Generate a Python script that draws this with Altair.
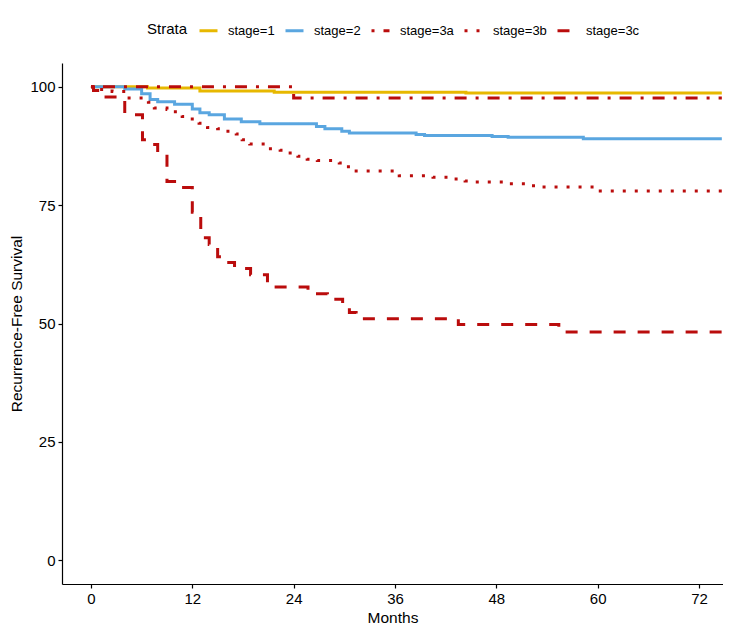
import altair as alt
import pandas as pd

# ---- data (months, survival %) ----
s1_t = [0, 6.7, 12.9, 21.7, 44.4, 74.7]
s1_v = [100, 99.7, 99.1, 98.85, 98.65, 98.65]

s2_t = [0, 4, 6, 7, 7.9, 9.9, 12, 12.9, 14, 15.8, 17.8, 20, 26.7, 27.7, 29.7, 30.6,
        38.5, 39.5, 47.5, 49.4, 58.3, 74.7]
s2_v = [100, 99.5, 98.5, 97.3, 96.8, 96.3, 95.3, 94.5, 94.1, 93.2, 92.6, 92.2, 91.6, 91.1,
        90.6, 90.2, 89.9, 89.7, 89.5, 89.3, 89.0, 89.0]

s3a_t = [0, 24, 74.7]
s3a_v = [100, 97.6, 97.6]

s3b_t = [0, 1, 2.5, 4.3, 6.8, 7.5, 9, 9.8, 10.8, 11.8, 12.8, 13.8, 15, 16, 17.2, 17.9,
         18.8, 21, 22.4, 23.4, 24.5, 25.6, 26.8, 29.4, 30.3, 31.2, 36.5, 40.5, 43, 44.3,
         45.5, 49.5, 52, 53.4, 60, 74.7]
s3b_v = [100, 99.4, 99.0, 97.6, 96.7, 95.5, 95.2, 94.7, 93.7, 93.2, 92.3, 91.4, 91.1, 90.6,
         90.0, 88.8, 87.9, 86.9, 86.6, 86.0, 85.3, 84.7, 84.4, 83.9, 83.1, 82.2, 81.2, 80.9,
         80.5, 80.1, 79.9, 79.5, 79.1, 78.8, 78.0, 78.0]

s3c_t = [0, 0.3, 1.3, 4.0, 6.1, 7.3, 7.9, 9.0, 9.9, 12.0, 13.0, 14.0, 15.0, 16.0, 17.0,
         18.9, 20.9, 25.7, 28.0, 29.8, 30.6, 31.4, 43.5, 55.4, 74.7]
s3c_v = [100, 99.2, 97.8, 94.1, 88.8, 87.8, 85.9, 80.0, 78.7, 73.5, 68.1, 66.7, 64.1, 62.9,
         61.6, 60.3, 57.7, 56.3, 55.1, 53.7, 52.3, 51.0, 49.8, 48.2, 48.2]

strata = ["stage=1", "stage=2", "stage=3a", "stage=3b", "stage=3c"]
colors = ["#E7B800", "#5AA6E0", "#BA0C0C", "#BA0C0C", "#BA0C0C"]
dashes = [[1, 0], [1, 0], [3, 9, 12, 9], [3, 9], [12, 12]]
x_ticks = [0, 12, 24, 36, 48, 60, 72]
y_ticks = [0, 25, 50, 75, 100]

rows = []
for name, ts, vs in zip(strata, [s1_t, s2_t, s3a_t, s3b_t, s3c_t],
                        [s1_v, s2_v, s3a_v, s3b_v, s3c_v]):
    for i, (t, v) in enumerate(zip(ts, vs)):
        rows.append({"strata": name, "month": t, "surv": v, "order": i})
df = pd.DataFrame(rows)

FONT = "Liberation Sans"

legend = alt.Legend(
    title="Strata", orient="none", direction="horizontal",
    legendX=85, legendY=-43, titleOrient="left", titleFontSize=15,
    titleFontWeight="normal", titleColor="black", titleFont=FONT,
    titlePadding=10, titleBaseline="middle",
    labelFontSize=13, labelFont=FONT, labelColor="black", labelOffset=9,
    symbolType="stroke", symbolSize=324, symbolStrokeWidth=3,
    columnPadding=4, padding=0,
)

chart = alt.Chart(df).mark_line(
    interpolate="step-after", strokeWidth=3, strokeCap="butt", clip=True
).encode(
    x=alt.X("month:Q", scale=alt.Scale(domain=[-3.43, 74.84], nice=False, zero=False),
            axis=alt.Axis(values=x_ticks, title="Months", grid=False)),
    y=alt.Y("surv:Q", scale=alt.Scale(domain=[-5, 105], nice=False),
            axis=alt.Axis(values=y_ticks, title="Recurrence-Free Survival", grid=False)),
    color=alt.Color("strata:N", scale=alt.Scale(domain=strata, range=colors), legend=legend),
    strokeDash=alt.StrokeDash("strata:N", scale=alt.Scale(domain=strata, range=dashes),
                              legend=legend),
    order="order:Q",
).properties(
    width=661, height=521,
    autosize=alt.AutoSizeParams(type="none"),
    padding={"left": 54, "top": 55, "right": 0, "bottom": 44},
).configure_view(stroke=None).configure_axis(
    domainColor="black", domainWidth=1.2, tickColor="black", tickSize=4, tickWidth=1.2,
    labelFont=FONT, labelFontSize=15, labelColor="black", labelPadding=3,
    titleFont=FONT, titleFontSize=15.5, titleFontWeight="normal", titleColor="black",
).configure_axisX(titlePadding=4).configure_axisY(titlePadding=5)

chart.save("out.html", embed_options={"renderer": "svg", "actions": False})
